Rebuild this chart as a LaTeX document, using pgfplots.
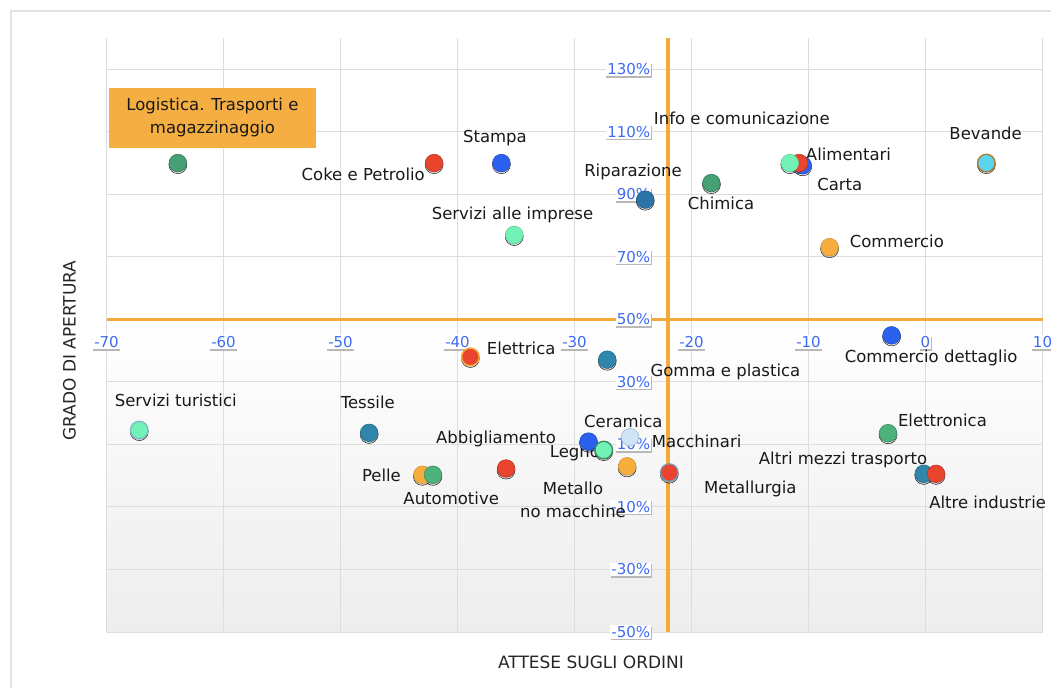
\documentclass[border=0pt]{standalone}
\usepackage{fontspec}
\setmainfont{DejaVu Sans}
\usepackage{pgfplots}
\pgfplotsset{compat=1.18}
\usepackage{pgfplotstable}

\definecolor{redpt}{HTML}{E8442E}
\definecolor{bluept}{HTML}{2A62EF}
\definecolor{tealpt}{HTML}{2E87AA}
\definecolor{tealdk}{HTML}{2A74A8}
\definecolor{dgreenpt}{HTML}{45A074}
\definecolor{greenpt}{HTML}{4DB27C}
\definecolor{mintpt}{HTML}{72F2B7}
\definecolor{orangept}{HTML}{F7AE3C}
\definecolor{cyanpt}{HTML}{5AD5EC}
\definecolor{palept}{HTML}{CFE4F7}
\definecolor{tickblue}{HTML}{3D6BF2}
\definecolor{axisor}{HTML}{F4AA3A}
\definecolor{boxor}{HTML}{F5AE42}
\definecolor{gridgray}{HTML}{DDDDDD}
\definecolor{framegray}{HTML}{E2E2E2}

\pgfplotstableread{
x y c
-63.9 100 dgreen
-42.0 100 red
-36.25 100 blue
-35.15 77 mint
-10.5 99.3 blue
-10.8 100 red
-11.6 100 mint
-23.95 88.3 tealdk
-18.3 93.6 dgreen
5.2 100 cyan
-8.2 73.1 orange
-2.9 44.9 blue
-38.9 38 redor
-27.2 37.1 teal
-67.2 14.6 mintb
-47.55 13.7 teal
-35.85 2.3 red
-43.0 0.3 orange
-42.1 0.3 green
-28.8 10.9 blue
-27.5 8.2 mintg
-25.5 3.0 orange
-21.9 1.0 redbl
-3.2 13.6 green
-0.15 0.6 teal
0.9 0.6 red
}\pts

\pgfplotstableread{
x y
-25.25 12.3
}\ptpale

\tikzset{
  tl/.style={fill=white, text=tickblue, inner sep=1.2pt,
    font=\fontsize{15}{15}\selectfont},
  tls/.style={fill=black!28, text=black!28, inner sep=1.2pt,
    font=\fontsize{15}{15}\selectfont},
  lbl/.style={font=\fontsize{16.5}{20}\selectfont, inner sep=0pt, text=black!90},
}
% x tick label with shadow: value
\newcommand{\xtl}[1]{%
  \node[tls] at ([yshift=-24.4pt, xshift=0.3pt]axis cs:#1,50) {#1};
  \node[tl] at ([yshift=-23pt]axis cs:#1,50) {#1};}
% y tick label with shadow
\newcommand{\ytl}[1]{%
  \node[tls, anchor=east] at ([xshift=-16.2pt, yshift=-1.4pt]axis cs:-22,#1) {#1\%};
  \node[tl, anchor=east] at ([xshift=-16.5pt]axis cs:-22,#1) {#1\%};}

\begin{document}
\begin{tikzpicture}
\clip (0pt,0pt) rectangle (1051pt,688pt);
\fill[white] (0pt,0pt) rectangle (1051pt,688pt);
\draw[framegray, line width=1.8pt] (11pt,0pt) -- (11pt,677pt) -- (1051pt,677pt);
% light gradient in the lower half of the plot area
\fill[top color=white, bottom color=black!7] (106.5pt,56pt) rectangle (1042.5pt,368.6pt);

\begin{axis}[
  at={(106.5pt,56pt)}, anchor=south west,
  scale only axis, width=936pt, height=594pt,
  xmin=-70, xmax=10, ymin=-50, ymax=140,
  xtick={-70,-60,-50,-40,-30,-20,-10,0,10},
  ytick={-50,-30,-10,10,30,50,70,90,110,130},
  xticklabels={}, yticklabels={},
  axis line style={draw=none},
  major tick length=0pt,
  xmajorgrids, ymajorgrids,
  grid style={draw=gridgray, line width=0.9pt},
  clip=false,
]
% orange axis lines
\draw[axisor, line width=3.6pt] (axis cs:-70,50) -- (axis cs:10,50);
\draw[axisor, line width=3.6pt] (axis cs:-22,-50) -- (axis cs:-22,140);

% pale point hidden behind the 10% label
\addplot[only marks, mark=*, mark size=8.8pt,
  mark options={fill=palept, draw=palept!80!black, line width=0.6pt}] table[x=x,y=y] {\ptpale};

% tick labels
\xtl{-70}\xtl{-60}\xtl{-50}\xtl{-40}\xtl{-30}\xtl{-20}\xtl{-10}\xtl{0}\xtl{10}
\ytl{130}\ytl{110}\ytl{90}\ytl{70}\ytl{50}\ytl{30}\ytl{10}\ytl{-10}\ytl{-30}\ytl{-50}

% shadows of the points
\addplot[only marks, mark=*, mark size=9pt,
  mark options={draw=none, fill=black, fill opacity=0.14, yshift=-1.6pt}] table[x=x,y=y] {\pts};

% points
\addplot[only marks, mark=*, mark size=8.8pt,
  scatter, scatter src=explicit symbolic,
  scatter/classes={
    red={fill=redpt, draw=redpt!80!black, line width=0.6pt},
    redor={fill=redpt, draw=axisor, line width=1.4pt},
    redbl={fill=redpt, draw=tealdk!70, line width=1.2pt},
    blue={fill=bluept, draw=bluept!80!black, line width=0.6pt},
    teal={fill=tealpt, draw=tealpt!80!black, line width=0.6pt},
    tealdk={fill=tealdk, draw=tealdk!80!black, line width=0.6pt},
    dgreen={fill=dgreenpt, draw=dgreenpt!75!black, line width=0.6pt},
    green={fill=greenpt, draw=greenpt!80!black, line width=0.6pt},
    mint={fill=mintpt, draw=mintpt!85!black, line width=0.6pt},
    mintg={fill=mintpt, draw=dgreenpt!85!black, line width=1.3pt},
    mintb={fill=mintpt, draw=tealpt!60, line width=1.3pt},
    orange={fill=orangept, draw=orangept!85!black, line width=0.6pt},
    cyan={fill=cyanpt, draw=orangept!70!black, line width=1.3pt}
  }] table[x=x,y=y,meta=c] {\pts};

% labels
\node[lbl, fill=boxor, inner sep=0pt, minimum width=207pt, minimum height=60pt, align=center,
  font=\fontsize{16.5}{23}\selectfont] at (axis cs:-60.95,114.45) {Logistica. Trasporti e\\magazzinaggio};
\node[lbl] at (axis cs:-36.8,107.9) {Stampa};
\node[lbl, anchor=east] at (axis cs:-42.78,96.5) {Coke e Petrolio};
\node[lbl] at (axis cs:-35.3,83.5) {Servizi alle imprese};
\node[lbl] at (axis cs:-15.7,114.3) {Info e comunicazione};
\node[lbl] at (axis cs:-6.58,102.9) {Alimentari};
\node[lbl] at (axis cs:-7.33,93.15) {Carta};
\node[lbl] at (axis cs:-25.0,97.0) {Riparazione};
\node[lbl] at (axis cs:-17.48,87.2) {Chimica};
\node[lbl] at (axis cs:5.14,109.4) {Bevande};
\node[lbl] at (axis cs:-2.45,75.0) {Commercio};
\node[lbl] at (axis cs:0.48,37.7) {Commercio dettaglio};
\node[lbl] at (axis cs:-34.56,40.6) {Elettrica};
\node[lbl] at (axis cs:-17.1,33.1) {Gomma e plastica};
\node[lbl] at (axis cs:-64.08,24.2) {Servizi turistici};
\node[lbl] at (axis cs:-47.67,23.4) {Tessile};
\node[lbl] at (axis cs:-36.7,11.7) {Abbigliamento};
\node[lbl] at (axis cs:-46.5,0.1) {Pelle};
\node[lbl] at (axis cs:-40.54,-7.4) {Automotive};
\node[lbl] at (axis cs:-25.83,17.3) {Ceramica};
\node[lbl] at (axis cs:-29.96,7.2) {Legno};
\node[lbl] at (axis cs:-19.56,11.1) {Macchinari};
\node[lbl, align=center, font=\fontsize{16.5}{23.5}\selectfont] at (axis cs:-30.13,-7.75) {Metallo\\no macchine};
\node[lbl] at (axis cs:-14.97,-4.3) {Metallurgia};
\node[lbl] at (axis cs:1.45,17.6) {Elettronica};
\node[lbl] at (axis cs:-7.05,5.1) {Altri mezzi trasporto};
\node[lbl] at (axis cs:5.31,-8.4) {Altre industrie};
\end{axis}

\node[rotate=90, font=\fontsize{17}{17}\selectfont, text=black!85] at (69.5pt,337.5pt) {GRADO DI APERTURA};
\node[font=\fontsize{17}{17}\selectfont, text=black!85] at (591pt,26pt) {ATTESE SUGLI ORDINI};
\end{tikzpicture}
\end{document}
